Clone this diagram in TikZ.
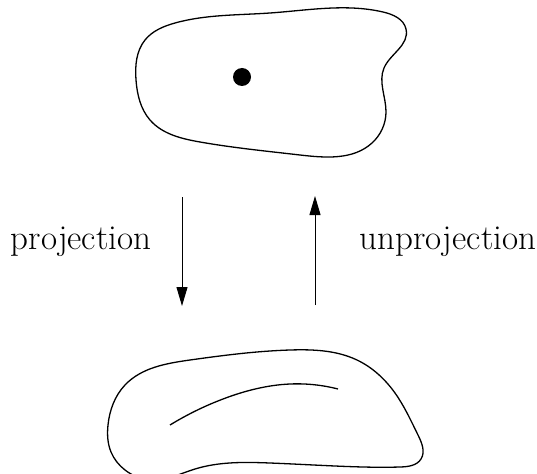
\documentclass[tikz,border=0pt]{standalone}
\usetikzlibrary{arrows.meta,hobby}
\begin{document}
\begin{tikzpicture}[x=1pt,y=-1pt,
  curve/.style={line width=1.3pt},
  arr/.style={line width=1pt,-{Triangle[length=19pt,width=11pt]}},
  lab/.style={font=\fontsize{35}{42}\selectfont, inner sep=0pt}]
\useasboundingbox (0,0) rectangle (537,473);
% top region
\draw[curve, use Hobby shortcut, closed=true]
 (175,23) .. (270,13) .. (383,12) .. (406,29) .. (384,68) .. (386,112)
 .. (372,143) .. (300,155) .. (200,142) .. (150,120) .. (136,80) .. (145,40);
\node[circle, fill=black, minimum size=18pt, inner sep=0pt] (pt) at (242,77) {};
% bottom region
\draw[curve, use Hobby shortcut, closed=true]
 (108,425) .. (125,385) .. (190,360) .. (290,350) .. (357,360) .. (395,393)
 .. (418,435) .. (421,459) .. (400,467) .. (335,466) .. (270,463) .. (195,469)
 .. (152,480) .. (125,470) .. (111,452);
\draw[curve, use Hobby shortcut] (170,425) .. (223,399) .. (290,384) .. (338,389);
% arrows
\coordinate (a1) at (182,197);
\coordinate (a2) at (182,306);
\coordinate (b1) at (315,305);
\coordinate (b2) at (315,196);
\draw[arr] (a1) -- (a2);
\draw[arr] (b1) -- (b2);
\node[lab, anchor=base] (proj) at (81,249) {projection};
\node[lab, anchor=base] (unproj) at (448,249) {unprojection};
\end{tikzpicture}
\end{document}
